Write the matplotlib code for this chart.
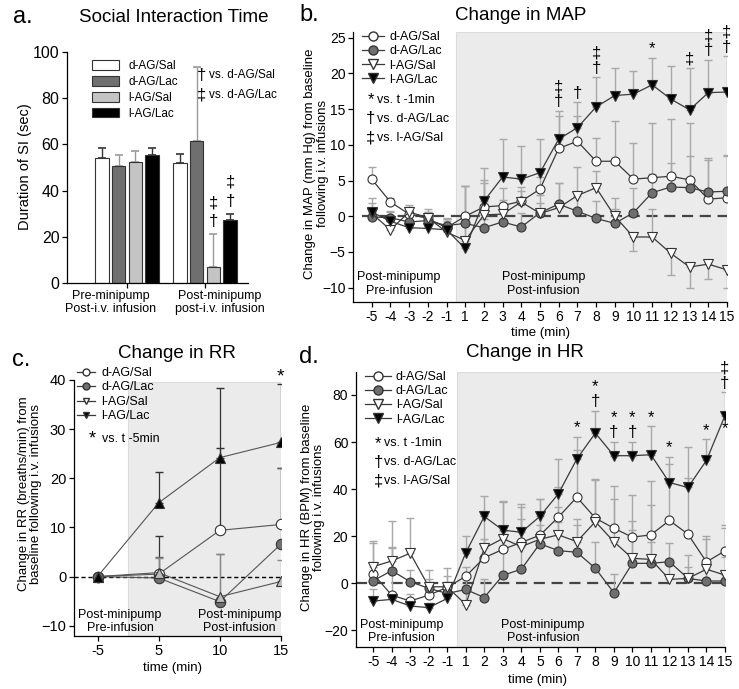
import numpy as np
import matplotlib.pyplot as plt
from matplotlib.lines import Line2D
from matplotlib.patches import Patch

plt.rcParams['font.family'] = ['Liberation Sans', 'DejaVu Sans']
plt.rcParams['font.size'] = 9
plt.rcParams['axes.linewidth'] = 0.9

groups = ['d-AG/Sal', 'd-AG/Lac', 'l-AG/Sal', 'l-AG/Lac']

# ---- a. social interaction time (sec)
si_phases = ['Pre-minipump\nPost-i.v. infusion', 'Post-minipump\npost-i.v. infusion']
si_dsal = [54.2, 52.0]
si_dlac = [50.6, 61.6]
si_lsal = [52.5, 6.9]
si_llac = [55.3, 27.2]
si_dsal_err = [4.3, 4.0]
si_dlac_err = [4.6, 31.8]
si_lsal_err = [4.6, 14.2]
si_llac_err = [3.2, 2.6]
si_dsal_marks = ['', '']
si_dlac_marks = ['', '']
si_lsal_marks = ['', '‡\n†']
si_llac_marks = ['', '‡\n†']

# ---- b. change in MAP (mm Hg)
t_min = ['-5', '-4', '-3', '-2', '-1', '1', '2', '3', '4', '5', '6', '7', '8',
         '9', '10', '11', '12', '13', '14', '15']
map_dsal = [5.2, 2.0, 0.3, -0.3, -1.6, 0.0, 1.3, 1.5, 2.1, 3.8, 9.5, 10.5, 7.7,
            7.7, 5.2, 5.4, 5.6, 5.1, 2.4, 2.6]
map_dlac = [-0.1, -0.2, -0.8, -0.6, -1.3, -1.0, -1.6, -0.8, -1.5, 0.5, 1.7, 0.7,
            -0.3, -1.0, 0.5, 3.3, 4.1, 4.0, 3.4, 3.5]
map_lsal = [0.4, -1.9, 0.6, -0.2, -2.2, -3.4, 0.2, 0.3, 2.0, 0.4, 1.2, 2.9, 4.0,
            0.0, -2.9, -2.9, -5.2, -7.1, -6.7, -7.5]
map_llac = [0.6, -0.7, -1.6, -1.7, -1.9, -4.5, 2.1, 5.5, 5.2, 6.1, 10.8, 12.4,
            15.3, 16.9, 17.1, 18.4, 16.4, 14.9, 17.3, 17.4]
# signed SEM: negative = bar drawn downward
map_dsal_err = [1.7, 0.6, 1.0, 1.3, 1.2, 4.2, 3.8, 2.5, 2.0, 1.7, 4.5, 3.5, 3.2,
                5.7, 5.0, 7.6, 8.0, 8.0, 5.8, 6.0]
map_dlac_err = [1.0, 0.8, 1.5, 1.2, 1.0, 1.5, 1.2, 2.5, 2.0, 2.5, 3.0, 2.5, 2.5,
                2.0, 3.4, 2.6, 3.4, 4.4, 4.5, 5.0]
map_lsal_err = [1.5, 2.0, 1.0, 0.8, 1.5, 7.6, 4.5, 2.0, 1.5, 1.5, 3.5, 4.0, 2.3,
                2.5, -2.0, 3.9, -3.0, -2.9, -2.1, -2.5]
map_llac_err = [1.9, 1.5, 1.5, 1.5, 1.5, 8.7, 4.6, 5.3, 4.7, 4.7, 4.0, 3.6, 4.2,
                3.9, 3.2, 3.8, 4.6, 5.9, 4.6, 5.0]
map_marks = ['', '', '', '', '', '', '', '', '', '', '‡\n†', '†', '‡\n†', '', '',
             '*', '', '‡', '‡\n†', '‡\n†']

# ---- c. change in RR (breaths/min)
rr_t = ['-5', '5', '10', '15']
rr_dsal = [0, 0.5, 9.4, 10.6]
rr_dlac = [0, -0.3, -5.1, 6.6]
rr_lsal = [0, 0.8, -4.1, -1.0]
rr_llac = [0, 15.0, 24.2, 27.3]
rr_dsal_err = [0, 7.7, 29.0, 11.5]
rr_dlac_err = [0, 4.3, 9.7, 15.5]
rr_lsal_err = [0, 3.0, 8.7, 4.3]
rr_llac_err = [0, 6.3, 1.9, 11.8]
rr_marks = ['', '', '', '*']

# ---- d. change in HR (BPM)
hr_dsal = [4.0, -5.0, -7.5, -5.0, -1.7, 3.0, 10.9, 14.4, 17.4, 20.4, 28.1, 36.6,
           27.7, 23.4, 19.6, 20.6, 26.7, 20.9, 9.1, 13.8]
hr_dlac = [1.1, 5.4, 0.7, -2.1, -4.3, -2.6, -6.0, 3.4, 6.0, 16.8, 13.9, 13.2, 6.4,
           -4.0, 8.5, 8.5, 9.2, 2.1, 1.0, 1.0]
hr_lsal = [7.1, 9.5, 12.8, -1.4, -1.5, -9.0, 14.9, 19.0, 15.6, 18.7, 20.6, 17.7,
           26.2, 17.7, 10.6, 10.2, 1.7, 2.1, 6.0, 3.5]
hr_llac = [-7.5, -6.8, -9.6, -10.3, -6.4, 13.0, 28.4, 22.6, 21.7, 28.4, 38.0, 52.8,
           63.8, 54.2, 54.2, 54.6, 42.8, 40.7, 52.2, 71.2]
hr_dsal_err = [13, 20, 3, 5, 5, 4, 8, 8, 10, 10, 13, 20, 16, 18, 18, 23, 24, 24,
               11, 11]
hr_dlac_err = [8, 10, 5, 4, 5, 5, 8, 10, 10, 8, 12, 14, 11, 8, 14, 9, 8, 10, 8, 10]
hr_lsal_err = [11, 17, 15, 7, 8, 6, 15, 16, 17, 17, 12, 7, 18, 18, 16, 23, 8, 5,
               13, 20]
hr_llac_err = [5, 2, 2, 2, 3, 7, 8.5, 12, 12, 7.5, 15, 9.5, 9.5, 6, 6, 12, 11, 17,
               9, 10]
hr_marks = ['', '', '', '', '', '', '', '', '', '', '', '*', '*\n†', '*\n†', '*\n†',
            '*', '*', '', '*', '‡\n†']


EDGE = '#333333'
LINE = '#3a3a3a'
SHADE = '#ebebeb'
MS = 6.5
styles = [dict(marker='o', mfc='white'),
          dict(marker='o', mfc='#6f6f6f'),
          dict(marker='v', mfc='white'),
          dict(marker='v', mfc='black')]


def split_err(err):
    err = np.asarray(err, dtype=float)
    return [np.clip(-err, 0, None), np.clip(err, 0, None)]


def legend_handles(ms=MS):
    return [Line2D([], [], color=LINE, lw=0.9, mec=EDGE, ms=ms, **s) for s in styles]


def style_axis(ax, labelsize=10):
    for sp in ['top', 'right']:
        ax.spines[sp].set_visible(False)
    ax.tick_params(direction='out', length=3.5, width=0.9, pad=2, labelsize=labelsize)


def time_panel(ax, series, errs, ecolor, marks, ylim, shade_from):
    x = np.arange(len(series[0]))
    ax.axvspan(shade_from, x[-1], facecolor=SHADE, edgecolor='#dcdcdc', zorder=0,
               lw=0.8)
    for y, e in zip(series, errs):
        ax.errorbar(x, y, yerr=split_err(e), fmt='none', ecolor=ecolor,
                    elinewidth=1.0, capsize=3, capthick=1.0, zorder=2)
    for y, s in zip(series, styles):
        ax.plot(x, y, color=LINE, lw=0.9, mec=EDGE, mew=0.8, ms=MS, zorder=3, **s)
    # significance marks above the l-AG/Lac bar
    top = np.asarray(series[3]) + np.clip(errs[3], 0, None)
    for xi, ti, m in zip(x, top, marks):
        if m:
            ax.annotate(m, (xi, ti), xytext=(0, 1), textcoords='offset points',
                        ha='center', va='bottom', fontsize=12, linespacing=1.0,
                        annotation_clip=False)
    ax.set_ylim(*ylim)
    style_axis(ax)


fig = plt.figure(figsize=(7.39, 6.89), dpi=100)

# ================= a =================
axa = fig.add_axes([0.0907, 0.5893, 0.245, 0.3353])
gx = np.arange(len(si_phases))
bar_vals = [si_dsal, si_dlac, si_lsal, si_llac]
bar_errs = [si_dsal_err, si_dlac_err, si_lsal_err, si_llac_err]
bar_marks = [si_dsal_marks, si_dlac_marks, si_lsal_marks, si_llac_marks]
bar_cols = ['white', '#6f6f6f', '#c4c4c4', 'black']
err_cols = ['#333333', '#999999', '#999999', '#333333']
for i, (v, e, mk, c, ec) in enumerate(zip(bar_vals, bar_errs, bar_marks, bar_cols,
                                          err_cols)):
    xi = gx + (i - 1.5) * 0.213
    axa.bar(xi, v, width=0.17, color=c, edgecolor=EDGE, lw=0.8, zorder=2)
    axa.errorbar(xi, v, yerr=[np.zeros(len(v)), e], fmt='none', ecolor=ec,
                 elinewidth=1.0, capsize=3, capthick=1.2, zorder=1)
    for xx, vv, ee, m in zip(xi, v, e, mk):
        if m:
            axa.annotate(m, (xx, vv + ee), xytext=(0, 4),
                         textcoords='offset points', ha='center', va='bottom',
                         fontsize=12, linespacing=1.3)
axa.set_xlim(-0.766, 1.55)
axa.set_ylim(0, 100)
axa.set_yticks([0, 20, 40, 60, 80, 100])
axa.set_xticks(gx)
axa.set_xticklabels([])
style_axis(axa, labelsize=11.5)
for xl, lab in zip(gx + np.array([-0.21, 0.19]), si_phases):
    axa.text(xl, -0.03, lab, ha='center', va='top', fontsize=9,
             linespacing=1.15, transform=axa.get_xaxis_transform(), clip_on=False)
axa.legend([Patch(facecolor=c, edgecolor=EDGE, lw=0.8) for c in bar_cols], groups,
           loc='upper left', bbox_to_anchor=(0.09, 1.0), frameon=False, fontsize=8.5,
           handlelength=2.3, handleheight=0.9, labelspacing=0.32, borderpad=0.2)
axa.text(0.955, 90, '†', fontsize=12, ha='center', va='center')
axa.text(1.05, 90, 'vs. d-AG/Sal', fontsize=8.5, va='center', clip_on=False)
axa.text(0.955, 81.4, '‡', fontsize=12, ha='center', va='center')
axa.text(1.05, 81.4, 'vs. d-AG/Lac', fontsize=8.5, va='center', clip_on=False)
fig.text(0.034, 0.758, 'Duration of SI (sec)', rotation=90, ha='center', va='center',
         fontsize=10.5)

# ================= b =================
axb = fig.add_axes([0.4777, 0.5617, 0.506, 0.3919])
time_panel(axb, [map_dsal, map_dlac, map_lsal, map_llac],
           [map_dsal_err, map_dlac_err, map_lsal_err, map_llac_err],
           '#a8a8a8', map_marks, (-12, 25.8), 4.5)
axb.hlines(0, -0.5, len(t_min) - 1, colors='#444444', lw=1.6, linestyles=(0, (5, 3)),
           zorder=1)
axb.set_xlim(-1, len(t_min) - 1)
axb.set_xticks(np.arange(len(t_min)))
axb.set_xticklabels(t_min)
axb.set_yticks([-10, -5, 0, 5, 10, 15, 20, 25])
axb.legend(legend_handles(), groups, loc='upper left', bbox_to_anchor=(0.0, 1.035),
           frameon=False, fontsize=9, handlelength=1.8, labelspacing=0.17,
           borderpad=0.2, handletextpad=0.4)
for yy, sym, lab in [(0.748, '*', 'vs. t -1min'), (0.678, '†', 'vs. d-AG/Lac'),
                     (0.607, '‡', 'vs. l-AG/Sal')]:
    axb.text(0.047, yy, sym, transform=axb.transAxes, ha='center', va='center',
             fontsize=12)
    axb.text(0.063, yy, lab, transform=axb.transAxes, va='center', fontsize=9)
axb.text(1.46, -9.5, 'Post-minipump\nPre-infusion', ha='center', va='center',
         fontsize=9, linespacing=1.15)
axb.text(9.18, -9.5, 'Post-minipump\nPost-infusion', ha='center', va='center',
         fontsize=9, linespacing=1.15)
fig.text(0.428, 0.763, 'Change in MAP (mm Hg) from baseline\nfollowing i.v. infusions',
         rotation=90, ha='center', va='center', fontsize=9.5, linespacing=1.05)

# ================= c =================
axc = fig.add_axes([0.1001, 0.0769, 0.2801, 0.3716])
xc = np.arange(len(rr_t))
axc.axvspan(0.5, xc[-1], ymax=(39.5 + 12.1) / 52.1, facecolor=SHADE,
            edgecolor='#dcdcdc', zorder=0, lw=0.8)
axc.axhline(0, color='black', lw=1.0, ls=(0, (3, 2)), zorder=1)
rr_series = [rr_dsal, rr_dlac, rr_lsal, rr_llac]
rr_errs = [rr_dsal_err, rr_dlac_err, rr_lsal_err, rr_llac_err]
rr_ecols = ['#333333', '#666666', '#888888', '#333333']
rr_styles = [dict(marker='o', mfc='white'), dict(marker='o', mfc='#6f6f6f'),
             dict(marker='^', mfc='#bdbdbd'), dict(marker='^', mfc='black')]
for y, e, ec in zip(rr_series, rr_errs, rr_ecols):
    axc.errorbar(xc, y, yerr=split_err(e), fmt='none', ecolor=ec, elinewidth=0.9,
                 capsize=3, capthick=1.0, zorder=2)
for y, s in zip(rr_series, rr_styles):
    axc.plot(xc, y, color='#555555', lw=0.8, mec=EDGE, mew=0.8, ms=7.5, zorder=3, **s)
rr_top = np.asarray(rr_llac) + np.asarray(rr_llac_err)
for xi, ti, m in zip(xc, rr_top, rr_marks):
    if m:
        axc.annotate(m, (xi, ti), xytext=(0, -1), textcoords='offset points',
                     ha='center', va='bottom', fontsize=14, annotation_clip=False)
axc.set_xlim(-0.385, xc[-1])
axc.set_ylim(-12.1, 40)
axc.set_xticks(xc)
axc.set_xticklabels(rr_t)
axc.set_yticks([-10, 0, 10, 20, 30, 40])
style_axis(axc, labelsize=10.5)
axc.legend(legend_handles(5), groups, loc='upper left', bbox_to_anchor=(-0.03, 1.085),
           frameon=False, fontsize=9, handlelength=1.5, labelspacing=0.2,
           borderpad=0.2, handletextpad=0.5)
axc.text(0.09, 0.77, '*', transform=axc.transAxes, ha='center', va='center',
         fontsize=13)
axc.text(0.134, 0.77, 'vs. t -5min', transform=axc.transAxes, va='center', fontsize=9)
axc.text(0.37, -9.1, 'Post-minipump\nPre-infusion', ha='center', va='center',
         fontsize=9, linespacing=1.15)
axc.text(2.32, -9.1, 'Post-minipump\nPost-infusion', ha='center', va='center',
         fontsize=9, linespacing=1.15)
fig.text(0.0406, 0.283, 'Change in RR (breaths/min) from\nbaseline following i.v. infusions',
         rotation=90, ha='center', va='center', fontsize=9.5, linespacing=1.05)

# ================= d =================
axd = fig.add_axes([0.4817, 0.061, 0.4993, 0.399])
time_panel(axd, [hr_dsal, hr_dlac, hr_lsal, hr_llac],
           [hr_dsal_err, hr_dlac_err, hr_lsal_err, hr_llac_err],
           '#a8a8a8', hr_marks, (-27, 89.7), 4.5)
axd.axhline(0, color='#444444', lw=1.6, ls=(0, (5, 3)), zorder=1)
axd.annotate('*', (len(t_min) - 1, hr_llac[-1]), xytext=(0, -4), textcoords='offset points',
             ha='center', va='top', fontsize=12, annotation_clip=False)
axd.set_xlim(-0.93, len(t_min) - 1)
axd.set_xticks(np.arange(len(t_min)))
axd.set_xticklabels(t_min)
axd.set_yticks([-20, 0, 20, 40, 60, 80])
axd.legend(legend_handles(), groups, loc='upper left', bbox_to_anchor=(0.0, 1.035),
           frameon=False, fontsize=9, handlelength=2.1, labelspacing=0.17,
           borderpad=0.2, handletextpad=0.4)
for yy, sym, lab in [(0.741, '*', 'vs. t -1min'), (0.672, '†', 'vs. d-AG/Lac'),
                     (0.604, '‡', 'vs. l-AG/Sal')]:
    axd.text(0.06, yy, sym, transform=axd.transAxes, ha='center', va='center',
             fontsize=12)
    axd.text(0.076, yy, lab, transform=axd.transAxes, va='center', fontsize=9)
axd.text(1.53, -20.3, 'Post-minipump\nPre-infusion', ha='center', va='center',
         fontsize=9, linespacing=1.15)
axd.text(9.18, -20.3, 'Post-minipump\nPost-infusion', ha='center', va='center',
         fontsize=9, linespacing=1.15)
fig.text(0.4238, 0.264, 'Change in HR (BPM) from baseline\nfollowing i.v. infusions',
         rotation=90, ha='center', va='center', fontsize=9.5, linespacing=1.05)

# titles, panel letters, x labels
for x, y, s in [(0.031, 0.975, 'a.'), (0.418, 0.978, 'b.'), (0.029, 0.4775, 'c.'),
                (0.418, 0.482, 'd.')]:
    fig.text(x, y, s, ha='center', va='center', fontsize=17)
for x, y, s in [(0.235, 0.975, 'Social Interaction Time'), (0.704, 0.978, 'Change in MAP'),
                (0.240, 0.487, 'Change in RR'), (0.710, 0.488, 'Change in HR')]:
    fig.text(x, y, s, ha='center', va='center', fontsize=13.5)
for x, y in [(0.731, 0.516), (0.234, 0.0305), (0.728, 0.013)]:
    fig.text(x, y, 'time (min)', ha='center', va='center', fontsize=9.5)

fig.savefig('out.png', dpi=100)
